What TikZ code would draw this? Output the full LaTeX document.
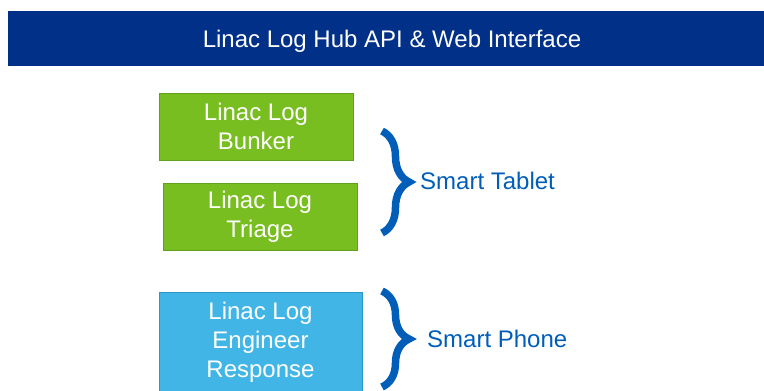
\documentclass[tikz,border=0pt]{standalone}
\usepackage{fontspec}
\setmainfont{Liberation Sans}
\usepackage{xcolor}
\usetikzlibrary{decorations.pathreplacing}
\definecolor{hubblue}{RGB}{0,48,135}
\definecolor{devblue}{RGB}{0,94,184}
\definecolor{tabgreen}{RGB}{120,190,32}
\definecolor{tabedge}{RGB}{96,160,30}
\definecolor{phoneblue}{RGB}{65,182,230}
\definecolor{phoneedge}{RGB}{45,150,195}
\begin{document}
\begin{tikzpicture}[x=1pt,y=-1pt,font=\fontsize{24}{28.8}\selectfont,
  app/.style={text=white,align=center,inner sep=0pt,line width=0.8pt},
  brc/.style={draw=devblue,line width=7.5pt,decorate,decoration={brace,amplitude=27pt}},
  dev/.style={text=devblue,anchor=west,inner sep=0pt}]
\useasboundingbox (0,0) rectangle (764,391);
\clip (0,0) rectangle (764,391);
% header bar
\node[fill=hubblue,text=white,inner sep=0pt,text depth=0pt,minimum width=768pt,minimum height=55pt] (hub) at (392,38.5) {Linac Log Hub API \& Web Interface};
% tablet apps
\node[app,draw=tabedge,fill=tabgreen,minimum width=194pt,minimum height=67pt] (bunker) at (256,126.5) {Linac Log\\Bunker};
\node[app,draw=tabedge,fill=tabgreen,minimum width=194pt,minimum height=67pt] (triage) at (260,216.5) {Linac Log\\Triage};
% phone app
\node[app,draw=phoneedge,fill=phoneblue,minimum width=203pt,minimum height=100pt] (engineer) at (260.5,342) {Linac Log\\Engineer\\Response};
% braces and devices
\coordinate (tabtop) at (382,131);
\coordinate (tabbot) at (382,233);
\draw[brc] (tabtop) -- (tabbot);
\node[dev] (tablet) at (420,181) {Smart Tablet};
\coordinate (photop) at (382,291);
\coordinate (phobot) at (382,387);
\draw[brc] (photop) -- (phobot);
\node[dev] (phone) at (427,339) {Smart Phone};
\end{tikzpicture}
\end{document}
